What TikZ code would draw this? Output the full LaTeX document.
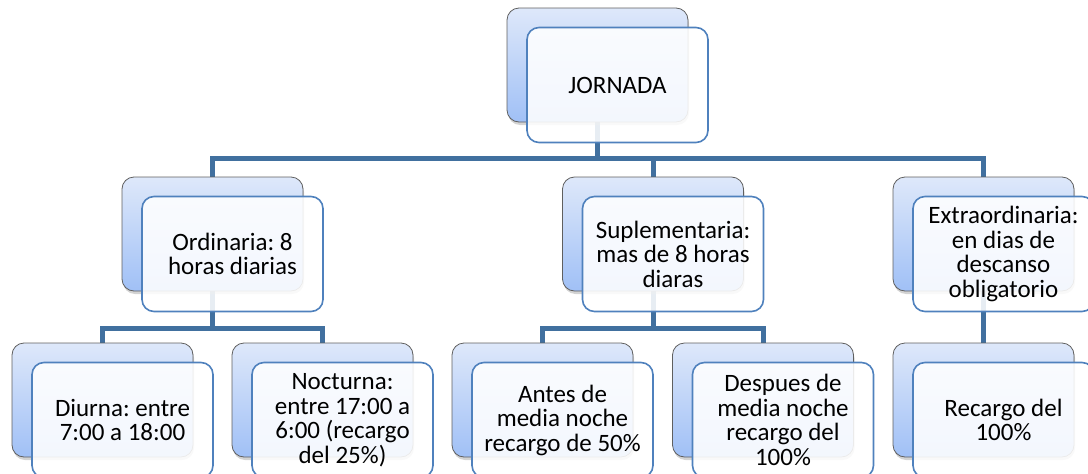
\documentclass[tikz,border=0pt]{standalone}
\usepackage{fontspec}
\setmainfont{Carlito}
\usetikzlibrary{positioning,shadows,backgrounds}
\frenchspacing

\definecolor{linkblue}{HTML}{41709F}
\definecolor{edgeblue}{HTML}{4F81BD}
\definecolor{shadetop}{HTML}{DEE8FA}
\definecolor{shadebot}{HTML}{A0C0F6}
\definecolor{backedge}{HTML}{5F5F5F}

\begin{document}
\begin{tikzpicture}[
		    x=1pt, y=-1pt,
		    back/.style={draw=backedge, line width=0.8pt, rounded corners=12pt, minimum width=181pt, minimum height=114pt, top color=shadetop, bottom color=shadebot, drop shadow={shadow xshift=1pt, shadow yshift=-3pt, opacity=0.35}},
		    front/.style={draw=edgeblue, line width=1.6pt, rounded corners=12pt, minimum width=181pt, minimum height=115pt, fill=white, fill opacity=0.88, text opacity=1, align=center, inner sep=2pt, font=\fontsize{25}{24.5}\selectfont},
		    conn/.style={draw=linkblue, line width=5pt},
		]
		    \useasboundingbox (0,0) rectangle (1088,474);
		    
		    % Level 0: Jornada
		    \node [back] (jornadaB) at (597.5,65) {};
		    \node [front] (jornada) at ([shift={(20,20)}]jornadaB.center) {JORNADA};
		    
		    % Level 1: tipos de jornada
		    \node [back] (ordB) at (212.5,234) {};
		    \node [front] (ord) at ([shift={(20,20)}]ordB.center) {Ordinaria: 8\\horas diarias};
		    \node [back] (supB) at (653,234) {};
		    \node [front] (sup) at ([shift={(20,20)}]supB.center) {Suplementaria:\\mas de 8 horas\\diaras};
		    \node [back] (extB) at (983.5,234) {};
		    \node [front] (ext) at ([shift={(20,20)}]extB.center) {Extraordinaria:\\en dias de\\descanso\\obligatorio};
		    
		    % Level 2: detalles
		    \node [back] (diuB) at (102.5,400) {};
		    \node [front] (diu) at ([shift={(20,20)}]diuB.center) {Diurna: entre\\7:00 a 18:00};
		    \node [back] (nocB) at (322.5,400) {};
		    \node [front] (noc) at ([shift={(20,20)}]nocB.center) {Nocturna:\\entre 17:00 a\\6:00 (recargo\\del 25\%)};
		    \node [back] (antB) at (542.5,400) {};
		    \node [front] (ant) at ([shift={(20,20)}]antB.center) {Antes de\\media noche\\recargo de 50\%};
		    \node [back] (desB) at (763,400) {};
		    \node [front] (des) at ([shift={(20,20)}]desB.center) {Despues de\\media noche\\recargo del\\100\%};
		    \node [back] (recB) at (983.5,400) {};
		    \node [front] (rec) at ([shift={(20,20)}]recB.center) {Recargo del\\100\%};
		    
		    % Connectors behind the boxes
		    \coordinate (hub) at (597.5,158);
		    \coordinate (ordHub) at (212.5,328);
		    \coordinate (supHub) at (653,328);
		    \begin{pgfonlayer}{background}
		        \draw [conn] (jornadaB.south) -- (hub);
		        \draw [conn] (ordB.north) |- (hub) -| (extB.north);
		        \draw [conn] (hub) -| (supB.north);
		        
		        \draw [conn] (ordB.south) -- (ordHub);
		        \draw [conn] (diuB.north) |- (ordHub) -| (nocB.north);
		        \draw [conn] (supB.south) -- (supHub);
		        \draw [conn] (antB.north) |- (supHub) -| (desB.north);
		        \draw [conn] (extB.south) -- (recB.north);
		    \end{pgfonlayer}
		\end{tikzpicture}
\end{document}
